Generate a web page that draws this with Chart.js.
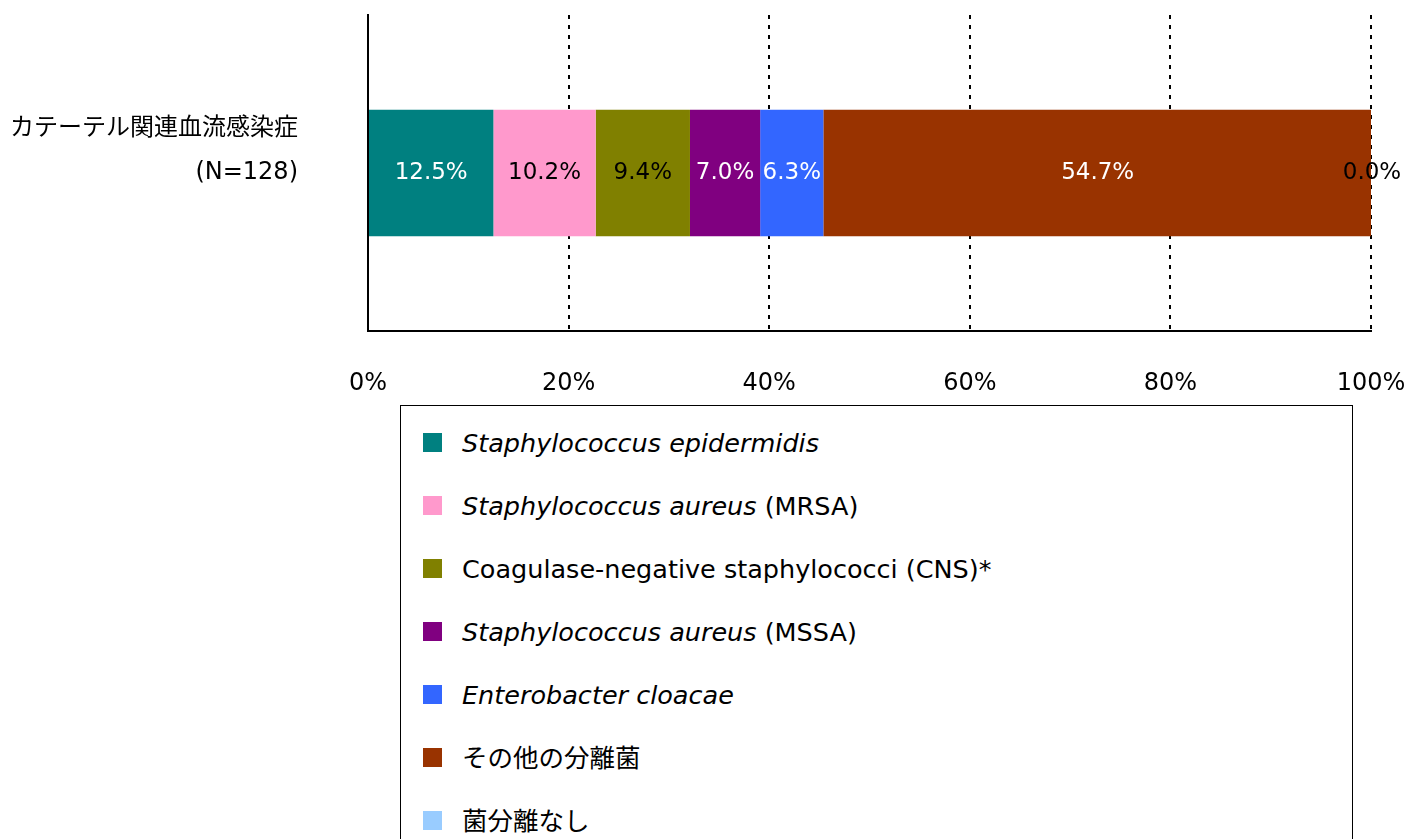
<!DOCTYPE html>
<html>
<head>
<meta charset="utf-8">
<script src="https://cdn.jsdelivr.net/npm/chart.js@4/dist/chart.umd.min.js"></script>
<style>
    html, body { margin: 0; padding: 0; background: #fff; overflow: hidden; }
    #chart { position: absolute; left: 0; top: 0; }
    #legend {
        position: absolute; left: 400px; top: 405px; width: 953px; height: 480px;
        border: 1px solid #000; box-sizing: border-box;
        font-family: "DejaVu Sans", "Noto Sans CJK JP", sans-serif; font-size: 25.5px; color: #000;
    }
    .item { position: absolute; left: 0; height: 30px; white-space: nowrap; }
    .box { position: absolute; left: 22px; top: 5px; width: 19px; height: 19px; }
    .txt { position: absolute; left: 61px; top: 0; line-height: 30px; }
</style>
</head>
<body>
<canvas id="chart" width="1409" height="405"></canvas>
<div id="legend"></div>
<script>
var categories = [['カテーテル関連血流感染症', '(N=128)', '']];
var seriesNames = [
    'Staphylococcus epidermidis',
    'Staphylococcus aureus (MRSA)',
    'Coagulase-negative staphylococci (CNS)*',
    'Staphylococcus aureus (MSSA)',
    'Enterobacter cloacae',
    'その他の分離菌',
    '菌分離なし'
];
var italicParts = ['Staphylococcus epidermidis', 'Staphylococcus aureus', '', 'Staphylococcus aureus', 'Enterobacter cloacae', '', ''];
var seriesValues = [12.5, 10.2, 9.4, 7.0, 6.3, 54.7, 0.0];
var seriesColors = ['#008080', '#FF99CC', '#808000', '#800080', '#3366FF', '#993300', '#99CCFF'];
var labelColors = ['#fff', '#000', '#000', '#fff', '#fff', '#fff', '#000'];
var xTicks = [0, 20, 40, 60, 80, 100];

var fontFamily = '"DejaVu Sans", "Noto Sans CJK JP", sans-serif';

var datasets = seriesNames.map(function (name, i) {
    return {
        label: name,
        data: [seriesValues[i]],
        backgroundColor: seriesColors[i],
        borderWidth: 0,
        barPercentage: 0.4,
        categoryPercentage: 1
    };
});

// draws the value in the middle of each segment
var valueLabels = {
    id: 'valueLabels',
    afterDatasetsDraw: function (chart) {
        var ctx = chart.ctx;
        ctx.save();
        ctx.font = '23px ' + fontFamily;
        ctx.textAlign = 'center';
        ctx.textBaseline = 'middle';
        chart.data.datasets.forEach(function (ds, i) {
            var meta = chart.getDatasetMeta(i);
            meta.data.forEach(function (bar, j) {
                var cx = (bar.x + bar.base) / 2;
                ctx.fillStyle = labelColors[i];
                ctx.fillText(ds.data[j].toFixed(1) + '%', cx, bar.y);
            });
        });
        ctx.restore();
    }
};

new Chart(document.getElementById('chart'), {
    type: 'bar',
    data: { labels: categories, datasets: datasets },
    plugins: [valueLabels],
    options: {
        indexAxis: 'y',
        responsive: false,
        animation: false,
        devicePixelRatio: 1,
        layout: { padding: { top: 15, right: 38, left: 0, bottom: 0 } },
        plugins: { legend: { display: false }, tooltip: { enabled: false } },
        scales: {
            x: {
                stacked: true,
                min: 0,
                max: 100,
                afterBuildTicks: function (scale) {
                    scale.ticks = xTicks.map(function (v) { return { value: v }; });
                },
                afterFit: function (scale) {
                    scale.height = 74;
                    scale.paddingLeft = 0;
                    scale.paddingRight = 0;
                },
                ticks: {
                    padding: 38,
                    color: '#000',
                    font: { family: fontFamily, size: 24 },
                    callback: function (v) { return v + '%'; }
                },
                grid: {
                    drawTicks: false,
                    lineWidth: 2,
                    color: function (c) { return c.tick && c.tick.value === 0 ? 'rgba(0,0,0,0)' : '#000'; }
                },
                border: { display: true, color: '#000', width: 2, dash: [4, 6] }
            },
            y: {
                stacked: true,
                afterFit: function (scale) {
                    scale.width = 368;
                    scale.paddingTop = 0;
                    scale.paddingBottom = 0;
                },
                ticks: {
                    padding: 70,
                    color: '#000',
                    font: { family: fontFamily, size: 24, lineHeight: 1.833 }
                },
                grid: { display: false, drawTicks: false },
                border: { display: true, color: '#000', width: 2 }
            }
        }
    }
});

var legend = document.getElementById('legend');
var rowTop = 22;
seriesNames.forEach(function (name, i) {
    var item = document.createElement('div');
    item.className = 'item';
    item.style.top = (rowTop + i * 63) + 'px';
    var box = document.createElement('div');
    box.className = 'box';
    box.style.background = seriesColors[i];
    var txt = document.createElement('div');
    txt.className = 'txt';
    var it = italicParts[i];
    if (it) {
        var em = document.createElement('i');
        em.textContent = it;
        txt.appendChild(em);
        txt.appendChild(document.createTextNode(name.slice(it.length)));
    } else {
        txt.textContent = name;
    }
    item.appendChild(box);
    item.appendChild(txt);
    legend.appendChild(item);
});
</script>
</body>
</html>
